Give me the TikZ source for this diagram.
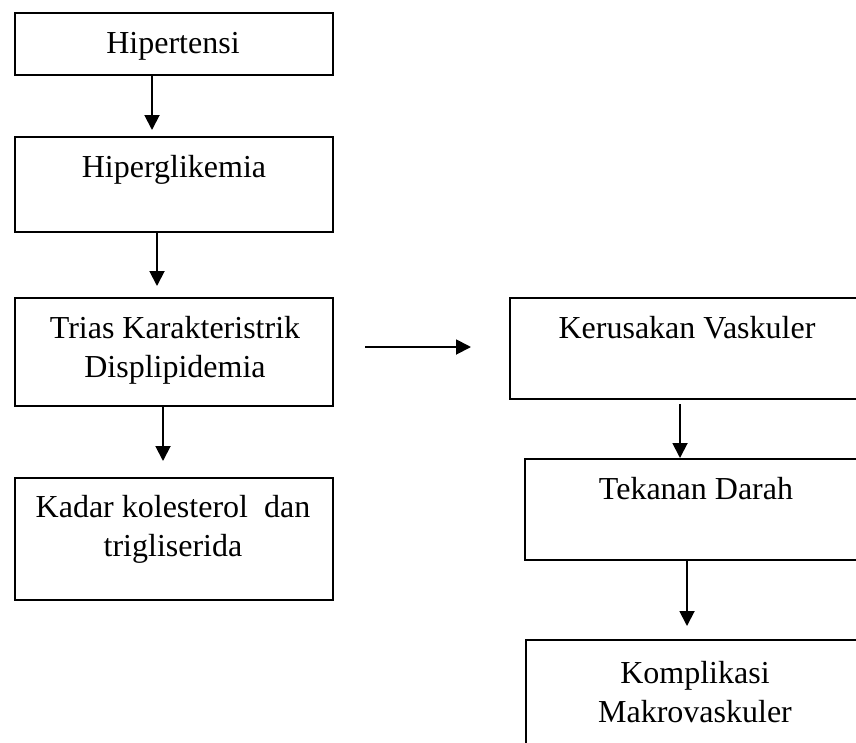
\documentclass[tikz,border=0pt]{standalone}
\usepackage{fontspec}
\setmainfont{Liberation Serif}
\usetikzlibrary{arrows.meta,calc}
\begin{document}
\begin{tikzpicture}[x=1pt,y=-1pt,
  box/.style={draw,line width=1.8pt,rectangle,inner sep=0pt,anchor=north west},
  txt/.style={font=\fontsize{32}{39}\selectfont,align=center,inner sep=0pt,anchor=base},
  arr/.style={line width=1.9pt,-{Triangle[width=15pt,length=15pt]}}]
\useasboundingbox (0,0) rectangle (856,742);
\clip (0,0) rectangle (856,742);
% left column
\node[box,minimum width=318pt,minimum height=62pt] (b1) at (14,12) {};
\node[box,minimum width=318pt,minimum height=95pt] (b2) at (14,136) {};
\node[box,minimum width=318pt,minimum height=108pt] (b3) at (14,297) {};
\node[box,minimum width=318pt,minimum height=122pt] (b4) at (14,477) {};
% right column (extends past the page edge)
\node[box,minimum width=357pt,minimum height=101pt] (b5) at (509,297) {};
\node[box,minimum width=344pt,minimum height=101pt] (b6) at (524,458) {};
\node[box,minimum width=341pt,minimum height=180pt] (b7) at (525,639) {};
% texts (base = baseline of the last line)
\node[txt] (t1) at (173,53) {Hipertensi};
\node[txt] (t2) at (174,177) {Hiperglikemia};
\node[txt] (t3) at (175,377) {Trias Karakteristrik\\Displipidemia};
\node[txt] (t4) at (173,556) {Kadar kolesterol~ dan\\trigliserida};
\node[txt] (t5) at (687,338) {Kerusakan Vaskuler};
\node[txt] (t6) at (696,499) {Tekanan Darah};
\node[txt] (t7) at (695,722) {Komplikasi\\Makrovaskuler};
% connector ends
\coordinate (a1s) at (152,74);  \coordinate (a1e) at (152,130);
\coordinate (a2s) at (157,231); \coordinate (a2e) at (157,286);
\coordinate (a3s) at (163,405); \coordinate (a3e) at (163,461);
\coordinate (hs) at (365,347);  \coordinate (he) at (471,347);
\coordinate (a4s) at (680,404); \coordinate (a4e) at (680,458);
\coordinate (a5s) at (687,560); \coordinate (a5e) at (687,626);
\draw[arr] (a1s) -- (a1e);
\draw[arr] (a2s) -- (a2e);
\draw[arr] (a3s) -- (a3e);
\draw[arr] (hs) -- (he);
\draw[arr] (a4s) -- (a4e);
\draw[arr] (a5s) -- (a5e);
\end{tikzpicture}
\end{document}
